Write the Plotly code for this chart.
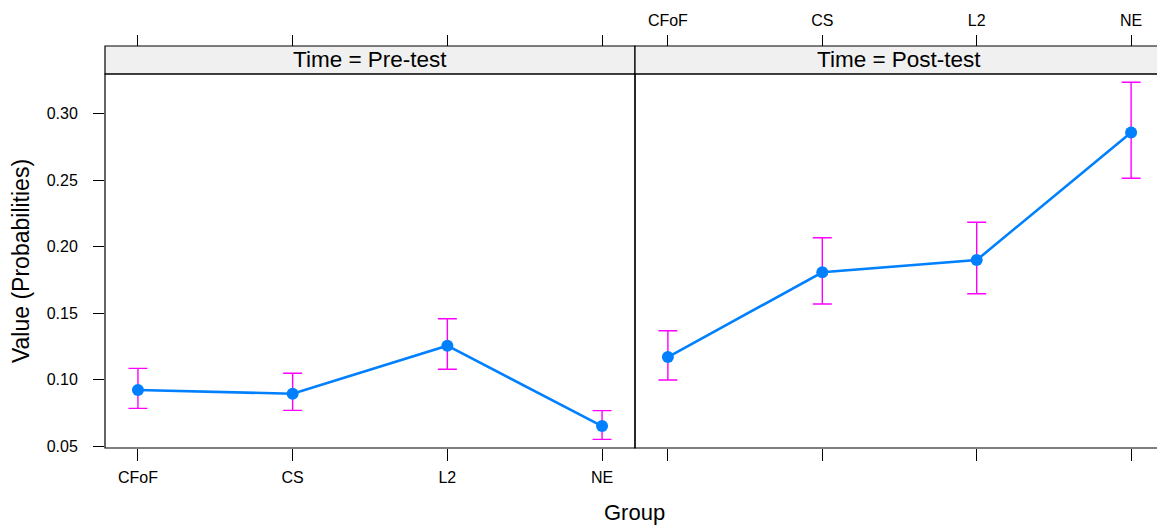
import plotly.graph_objects as go

# ---- data ----
groups = ["CFoF", "CS", "L2", "NE"]
times = ["Pre-test", "Post-test"]

pre_value = [0.0921, 0.0893, 0.1254, 0.0650]
pre_upper = [0.1084, 0.1047, 0.1457, 0.0766]
pre_lower = [0.0783, 0.0768, 0.1077, 0.0550]

post_value = [0.1169, 0.1806, 0.1898, 0.2858]
post_upper = [0.1367, 0.2066, 0.2182, 0.3235]
post_lower = [0.0996, 0.1568, 0.1645, 0.2513]

y_ticks = [0.05, 0.10, 0.15, 0.20, 0.25, 0.30]

x_title = "Group"
y_title = "Value (Probabilities)"

# ---- style ----
FONT = "Liberation Sans, Arial, Helvetica, sans-serif"
BLUE = "#0080FF"
MAGENTA = "#FF00FF"
STRIP = "#F0F0F0"

# the page body adds an 8px margin, so the figure is 8px smaller
W, H = 1157, 519
ML, MR, MT, MB = 97, 1, 38, 79
plot_w = W - ML - MR
plot_h = H - MT - MB
split = (627 - ML) / plot_w
panel_top = (440 - 66) / plot_h

pos = list(range(1, len(groups) + 1))
x_range = [0.787, len(groups) + 0.213]
y_range = [0.0485, 0.3297]

fig = go.Figure()


def add_panel(vals, up, lo, xa, ya):
    fig.add_trace(go.Scatter(
        x=pos, y=vals, xaxis=xa, yaxis=ya,
        mode="lines+markers",
        line=dict(color=BLUE, width=2.6),
        marker=dict(color=BLUE, size=12),
        error_y=dict(
            type="data", symmetric=False,
            array=[u - v for u, v in zip(up, vals)],
            arrayminus=[v - l for v, l in zip(vals, lo)],
            color=MAGENTA, thickness=1.4, width=9.5,
        ),
        showlegend=False, hoverinfo="x+y",
    ))


add_panel(pre_value, pre_upper, pre_lower, "x", "y")
add_panel(post_value, post_upper, post_lower, "x2", "y2")
# empty traces so the top (overlay) axes exist
fig.add_trace(go.Scatter(x=[], y=[], xaxis="x3", yaxis="y", showlegend=False))
fig.add_trace(go.Scatter(x=[], y=[], xaxis="x4", yaxis="y2", showlegend=False))

tickfont = dict(family=FONT, size=16, color="black")
common_x = dict(
    range=x_range, tickmode="array", tickvals=pos, ticktext=groups,
    ticks="outside", tickcolor="black", tickwidth=1,
    showgrid=False, zeroline=False, tickfont=tickfont, fixedrange=True,
    ticklabelstandoff=3,
)

fig.update_layout(
    width=W, height=H,
    margin=dict(l=ML, r=MR, t=MT, b=MB, pad=0),
    paper_bgcolor="white", plot_bgcolor="white",
    font=dict(family=FONT, color="black"),
    xaxis=dict(domain=[0, split], anchor="y", side="bottom", ticklen=12,
               showline=False, **common_x),
    xaxis2=dict(domain=[split, 1], anchor="y2", side="bottom", ticklen=12,
                showticklabels=False, showline=False, **common_x),
    xaxis3=dict(domain=[0, split], overlaying="x", anchor="free", position=1,
                side="top", ticklen=11, showticklabels=False, showline=False,
                **common_x),
    xaxis4=dict(domain=[split, 1], overlaying="x2", anchor="free", position=1,
                side="top", ticklen=11, showticklabels=True, showline=False,
                **common_x),
    yaxis=dict(domain=[0, panel_top], anchor="x", range=y_range,
               tickmode="array", tickvals=y_ticks, tickformat=".2f",
               ticks="outside", ticklen=11, tickcolor="black",
               ticklabelstandoff=12,
               showgrid=False, zeroline=False, showline=False,
               tickfont=tickfont, fixedrange=True,
               title=dict(text=y_title, font=dict(family=FONT, size=23),
                          standoff=12)),
    yaxis2=dict(domain=[0, panel_top], anchor="x2", range=y_range,
                matches="y", showticklabels=False, ticks="",
                showgrid=False, zeroline=False, showline=False,
                fixedrange=True),
)

shapes = []
for x0, x1 in [(0, split), (split, 1)]:
    # strip
    shapes.append(dict(type="rect", xref="paper", yref="paper",
                       x0=x0, x1=x1, y0=panel_top, y1=1,
                       fillcolor=STRIP, line=dict(color="black", width=1.2),
                       layer="below"))
    # panel border
    shapes.append(dict(type="rect", xref="paper", yref="paper",
                       x0=x0, x1=x1, y0=0, y1=panel_top,
                       fillcolor="rgba(0,0,0,0)",
                       line=dict(color="black", width=1.2)))
fig.update_layout(shapes=shapes)

annotations = []
for (x0, x1), t in zip([(0, split), (split, 1)], times):
    annotations.append(dict(
        text=f"Time = {t}", xref="paper", yref="paper",
        x=(x0 + x1) / 2, y=(panel_top + 1) / 2,
        xanchor="center", yanchor="middle", showarrow=False,
        font=dict(family=FONT, size=22.5, color="black"),
    ))
annotations.append(dict(
    text=x_title, xref="paper", yref="paper", x=0.5, y=0,
    xanchor="center", yanchor="middle", yshift=-64, showarrow=False,
    font=dict(family=FONT, size=22, color="black"),
))
fig.update_layout(annotations=annotations)

fig.write_html("out.html")
